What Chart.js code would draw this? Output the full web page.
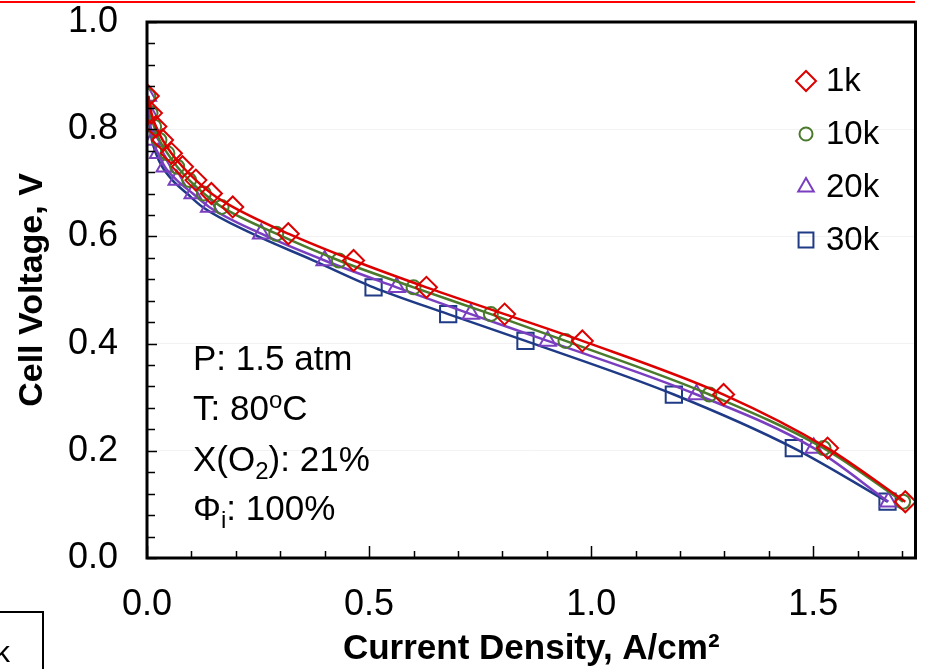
<!DOCTYPE html>
<html>
<head>
<meta charset="utf-8">
<script src="https://cdn.jsdelivr.net/npm/chart.js@4.4.0/dist/chart.umd.min.js"></script>
<style>
  body { margin: 0; background: #fff; font-family: "Liberation Sans", Arial, sans-serif; }
  #wrap { position: relative; width: 929px; height: 669px; overflow: hidden; }
  #topRule { position: absolute; left: 0; top: 1px; width: 915px; height: 2px; background: #ff0000; }
  #cornerBox { position: absolute; left: -40px; top: 611px; width: 80px; height: 80px;
    border: 2px solid #000; font-size: 30px; }
  #cornerBox span { position: absolute; right: 32px; top: 22px; }
  .note { position: absolute; left: 193px; font-size: 35px; color: #000; line-height: 1; }
  .note sub { font-size: 24px; vertical-align: -8px; line-height: 0; }
  .note sup { font-size: 24px; vertical-align: 12px; line-height: 0; }
</style>
</head>
<body>
<div id="wrap">
  <canvas id="polChart" width="929" height="669"></canvas>
  <div id="topRule"></div>
  <div id="cornerBox"><span>k</span></div>
  <div class="note" style="top:340px">P: 1.5 atm</div>
  <div class="note" style="top:390px">T: 80<sup>o</sup>C</div>
  <div class="note" style="top:441px">X(O<sub>2</sub>): 21%</div>
  <div class="note" style="top:490px">&Phi;<sub>i</sub>: 100%</div>
</div>
<script>
// cell voltage steps (V), shared by all four series
const voltage = [0.862, 0.83, 0.805, 0.78, 0.755, 0.73, 0.705, 0.68, 0.655,
                 0.605, 0.555, 0.505, 0.455, 0.405, 0.305, 0.205, 0.105];

// current density (A/cm2)
const current1k  = [0.003, 0.010, 0.020, 0.035, 0.055, 0.080, 0.110, 0.145, 0.193,
                    0.318, 0.465, 0.629, 0.805, 0.980, 1.298, 1.532, 1.707];
const current10k = [0.003, 0.008, 0.016, 0.028, 0.046, 0.068, 0.095, 0.128, 0.168,
                    0.291, 0.432, 0.600, 0.774, 0.942, 1.266, 1.523, 1.702];
const current20k = [0.002, 0.005, 0.008, 0.013, 0.025, 0.040, 0.067, 0.103, 0.140,
                    0.257, 0.400, 0.562, 0.729, 0.902, 1.237, 1.501, 1.669];
const current30k = [0.001, 0.003, 0.006, 0.011, 0.020, 0.034, 0.057, 0.090, 0.125,
                    0.237, 0.375, 0.510, 0.678, 0.852, 1.186, 1.456, 1.667];

const seriesLabels = ['1k', '10k', '20k', '30k'];
const xTicks = [0.0, 0.5, 1.0, 1.5];
const yTicks = [0.0, 0.2, 0.4, 0.6, 0.8, 1.0];

const FONT = '"Liberation Sans", Arial, sans-serif';

const toPoints = arr => voltage.map((v, i) => ({ x: arr[i], y: v }));

// 30k markers are not visible above 0.5 V in the original
const blueRadius = voltage.map(v => (v > 0.52 ? 0 : 11.5));

const datasets = [
  { label: seriesLabels[0], data: toPoints(current1k), borderColor: '#dc0000',
    pointStyle: 'rectRot', pointRadius: 10.5, legendR: 10 },
  { label: seriesLabels[1], data: toPoints(current10k), borderColor: '#4a7a2c',
    pointStyle: 'circle', pointRadius: 7, legendR: 6.5 },
  { label: seriesLabels[2], data: toPoints(current20k), borderColor: '#7a3fc0',
    pointStyle: 'triangle', pointRadius: 9.5, legendR: 9 },
  { label: seriesLabels[3], data: toPoints(current30k), borderColor: '#1f3a86',
    pointStyle: 'rect', pointRadius: blueRadius, legendR: 10.5 },
].map(d => ({
  ...d,
  backgroundColor: 'rgba(255,255,255,0)',
  pointBorderColor: d.borderColor,
  pointBorderWidth: 2,
  borderWidth: 2.5,
  showLine: true,
  cubicInterpolationMode: 'monotone',
}));

// frame, inward tick marks and an in-plot legend
const decorations = {
  id: 'decorations',
  afterDatasetsDraw(chart) {
    const { ctx, chartArea: a, scales: { x, y } } = chart;
    ctx.save();
    ctx.strokeStyle = '#000';
    ctx.lineWidth = 1.5;
    ctx.beginPath();
    for (let v = 0; v <= x.max + 1e-9; v += 0.1) {
      const px = Math.round(x.getPixelForValue(v)) + 0.5;
      const major = Math.abs(v / 0.5 - Math.round(v / 0.5)) < 1e-6;
      ctx.moveTo(px, a.bottom);
      ctx.lineTo(px, a.bottom - (major ? 12 : 7));
    }
    for (let v = 0; v <= y.max + 1e-9; v += 0.04) {
      const py = Math.round(y.getPixelForValue(v)) + 0.5;
      const major = Math.abs(v / 0.2 - Math.round(v / 0.2)) < 1e-6;
      ctx.moveTo(a.left, py);
      ctx.lineTo(a.left + (major ? 10 : 8), py);
    }
    ctx.stroke();

    ctx.lineWidth = 3;
    ctx.strokeRect(a.left, a.top, a.right - a.left, a.bottom - a.top);

    // legend
    ctx.font = '33px ' + FONT;
    ctx.textBaseline = 'middle';
    chart.data.datasets.forEach((ds, i) => {
      const cy = 81 + i * 53;
      ctx.strokeStyle = ds.borderColor;
      ctx.fillStyle = 'rgba(0,0,0,0)';
      ctx.lineWidth = 2;
      Chart.helpers.drawPoint(ctx, { pointStyle: ds.pointStyle, radius: ds.legendR, rotation: 0, borderWidth: 2 }, 806, cy);
      ctx.fillStyle = '#000';
      ctx.fillText(ds.label, 826, cy + 1);
    });
    ctx.restore();
  }
};

new Chart(document.getElementById('polChart').getContext('2d'), {
  type: 'scatter',
  data: { datasets },
  options: {
    responsive: false,
    animation: false,
    layout: { padding: { top: 22, right: 8, left: 0, bottom: 0 } },
    plugins: { legend: { display: false }, tooltip: { enabled: false } },
    scales: {
      x: {
        type: 'linear', min: 0, max: 1.73,
        afterBuildTicks: s => { s.ticks = xTicks.map(v => ({ value: v })); },
        afterFit: s => { s.height = 111; s.paddingLeft = 0; s.paddingRight = 0; },
        grid: { display: false, drawTicks: false },
        border: { display: false },
        ticks: { padding: 25, color: '#000', maxRotation: 0, font: { family: FONT, size: 36 },
                 callback: v => v.toFixed(1) },
        title: { display: true, text: 'Current Density, A/cm²', color: '#000',
                 font: { family: FONT, size: 35, weight: 'bold', lineHeight: 1 },
                 padding: { top: 0, bottom: 2 } },
      },
      y: {
        type: 'linear', min: 0, max: 1.0,
        afterBuildTicks: s => { s.ticks = yTicks.map(v => ({ value: v })); },
        afterFit: s => { s.width = 147; s.paddingTop = 0; s.paddingBottom = 0; },
        grid: { color: '#f2f2f2', lineWidth: 1, drawTicks: false },
        border: { display: false },
        ticks: { padding: 29, color: '#000', font: { family: FONT, size: 36 },
                 callback: v => v.toFixed(1) },
        title: { display: true, text: 'Cell Voltage, V', color: '#000',
                 font: { family: FONT, size: 34, weight: 'bold', lineHeight: 1 },
                 padding: { top: 16, bottom: 0 } },
      },
    },
  },
  plugins: [decorations],
});
</script>
</body>
</html>
